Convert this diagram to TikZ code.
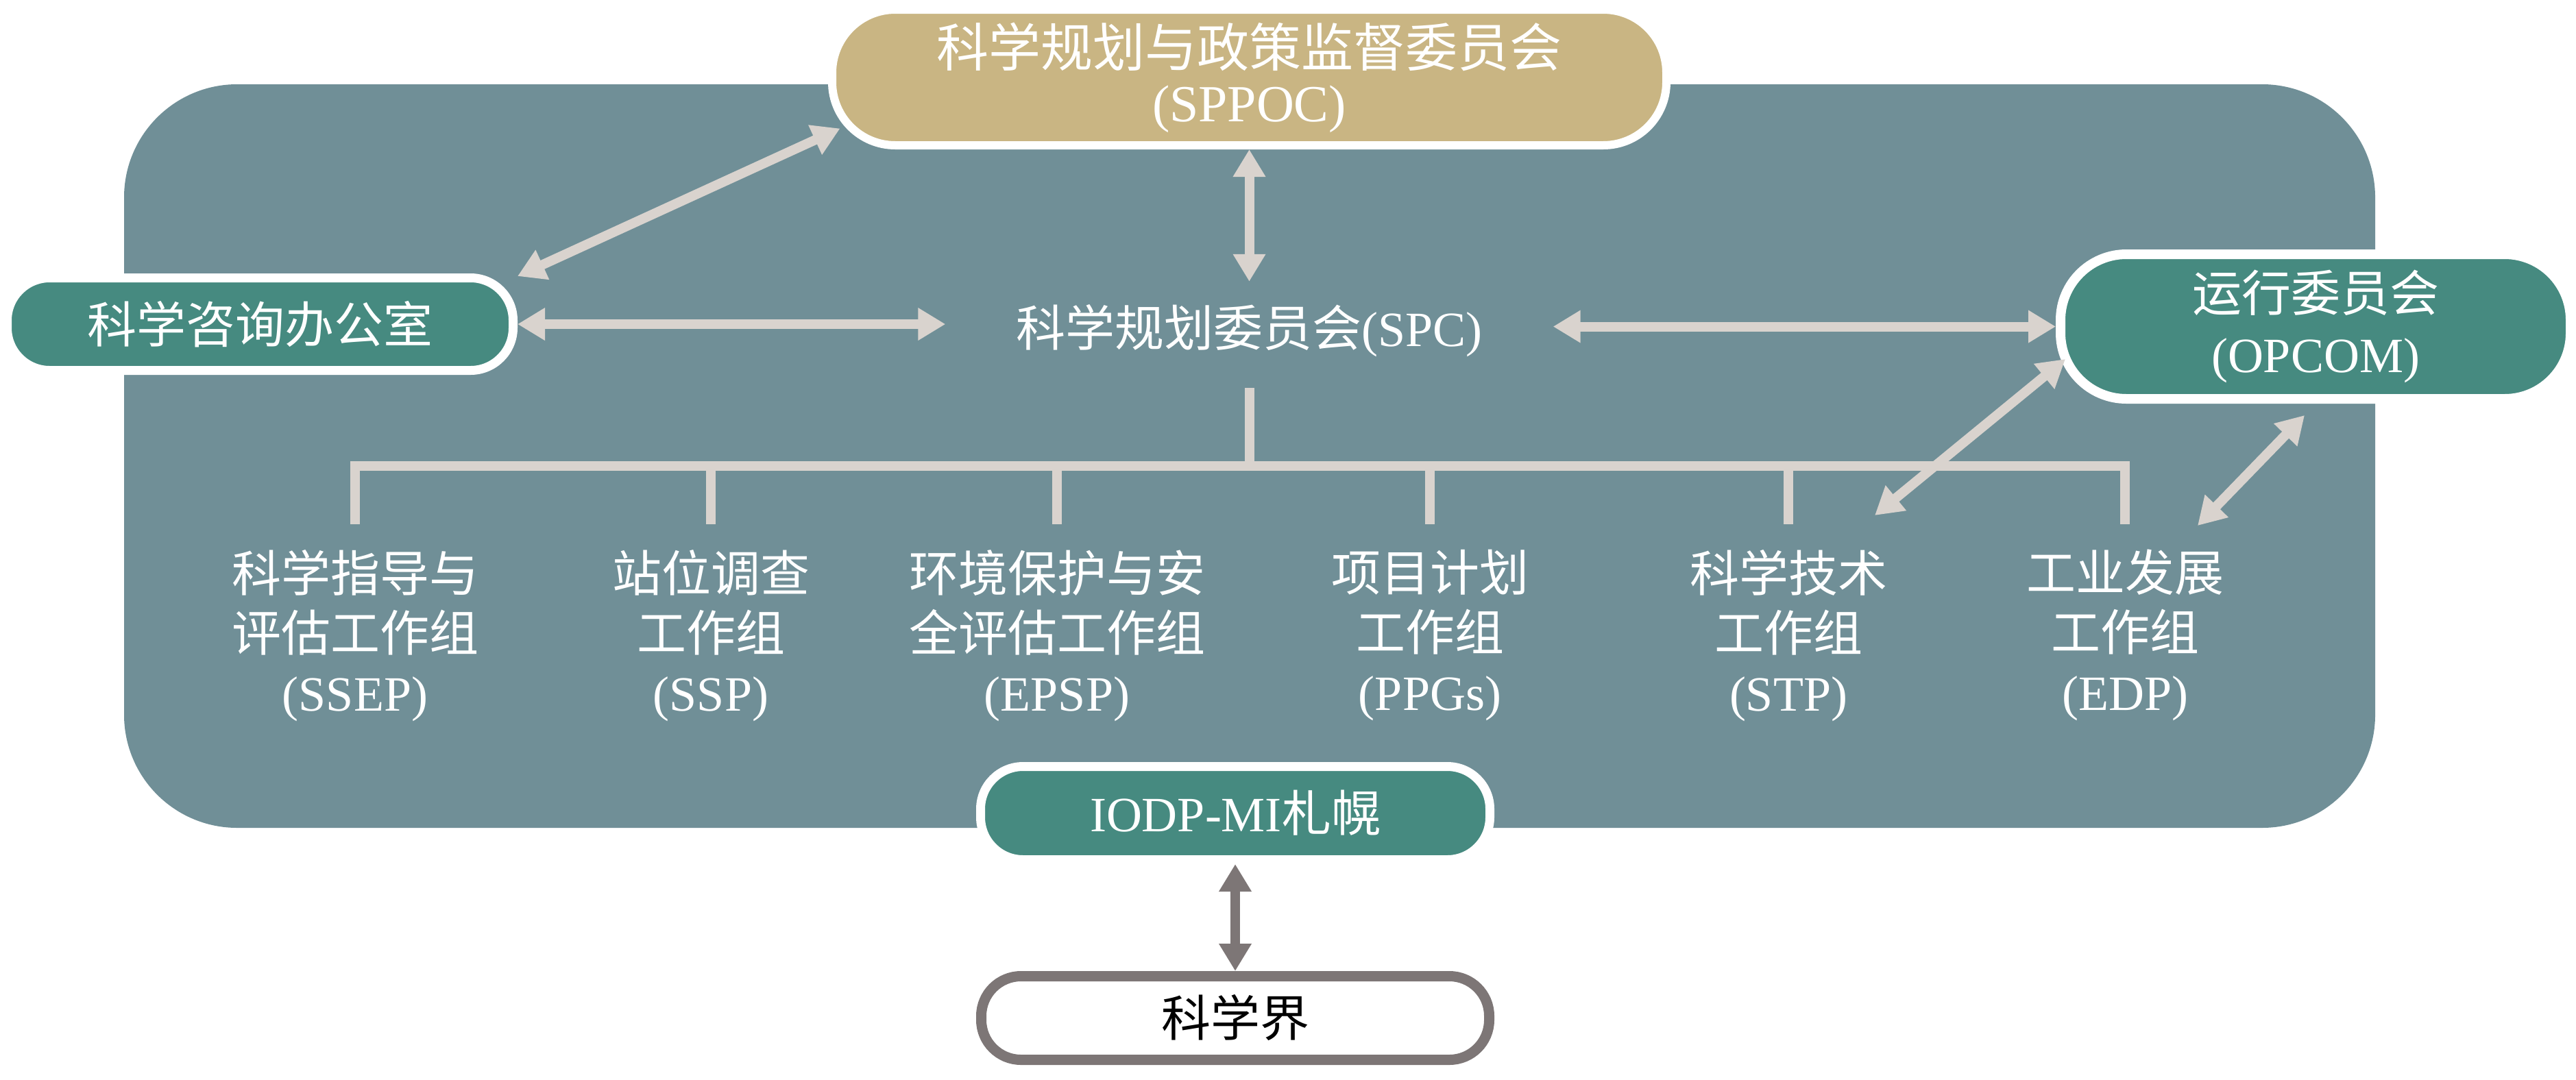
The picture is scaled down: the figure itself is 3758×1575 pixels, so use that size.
\documentclass[tikz,border=0pt]{standalone}
\usepackage{fontspec}
\setmainfont{Liberation Serif}
\newfontfamily\cjk{Noto Sans CJK SC}
\usetikzlibrary{arrows.meta,calc}
\definecolor{bgc}{RGB}{112,143,151}
\definecolor{tealc}{RGB}{70,138,128}
\definecolor{goldc}{RGB}{201,181,131}
\definecolor{lightc}{RGB}{217,211,206}
\definecolor{darkc}{RGB}{125,118,118}
\begin{document}
\begin{tikzpicture}[x=1pt,y=-1pt,
  pill/.style={rectangle, draw=white, fill=tealc, text=white, align=center, inner sep=0pt,
    font=\fontsize{72pt}{89pt}\selectfont},
  lbl/.style={text=white, align=center, anchor=north, inner xsep=0pt, inner ysep=37pt,
    font=\fontsize{72pt}{87pt}\selectfont},
  arr/.style={draw=lightc, line width=14pt, <->, >={Triangle[width=45pt,length=40pt]}},
  tree/.style={draw=lightc, line width=14pt}]
\useasboundingbox (0,0) rectangle (3758,1575);
\fill[white] (0,0) rectangle (3758,1575);
% background panel
\fill[bgc, rounded corners=165pt] (181,123) rectangle (3465,1208);

% nodes
\node[pill, fill=goldc, line width=12pt, rounded corners=92pt, minimum width=1217pt, minimum height=198pt,
  font=\fontsize{76pt}{80pt}\selectfont] (SPPOC) at (1822.5,113)
  {{\cjk 科学规划与政策监督委员会}\\(SPPOC)};
\node[pill, line width=13pt, rounded corners=62pt, minimum width=738pt, minimum height=135pt] (ASO) at (379.5,473)
  {{\cjk 科学咨询办公室}};
\node[pill, line width=14pt, rounded corners=96pt, minimum width=744pt, minimum height=211pt] (OPCOM) at (3378,476.5)
  {{\cjk 运行委员会}\\(OPCOM)};
\node[text=white, inner sep=0pt, minimum width=886pt, text height=94pt, text depth=61pt,
  font=\fontsize{72pt}{87pt}\selectfont] (SPC) at (1822.5,488.5)
  {{\cjk 科学规划委员会}(SPC)};
\node[pill, line width=13pt, rounded corners=62pt, minimum width=743pt, minimum height=136pt] (IODP) at (1802,1186.5)
  {IODP-MI{\cjk 札幌}};
\node[pill, draw=darkc, fill=white, text=black, line width=15pt, rounded corners=58pt,
  minimum width=741pt, minimum height=122pt] (SCI) at (1802,1485.5)
  {{\cjk 科学界}};

% working groups
\node[lbl] (SSEP) at (518,765) {{\cjk 科学指导与}\\{\cjk 评估工作组}\\(SSEP)};
\node[lbl] (SSP) at (1037,765) {{\cjk 站位调查}\\{\cjk 工作组}\\(SSP)};
\node[lbl] (EPSP) at (1542,765) {{\cjk 环境保护与安}\\{\cjk 全评估工作组}\\(EPSP)};
\node[lbl] (PPGs) at (2086,765) {{\cjk 项目计划}\\{\cjk 工作组}\\(PPGs)};
\node[lbl] (STP) at (2609,765) {{\cjk 科学技术}\\{\cjk 工作组}\\(STP)};
\node[lbl] (EDP) at (3100,765) {{\cjk 工业发展}\\{\cjk 工作组}\\(EDP)};

% tree
\coordinate (bar) at (1822.5,680);
\draw[tree] (SPC.south) -- (bar);
\draw[tree] (SSEP.north) -- (SSEP.north |- bar) -- (EDP.north |- bar) -- (EDP.north);
\foreach \n in {SSP,EPSP,PPGs,STP} \draw[tree] (\n.north |- bar) -- (\n.north);

% arrows
\coordinate (stpA) at (2735,752);
\coordinate (edpA) at (3206,767);
\draw[arr] (SPPOC.south) -- (SPC.north);
\draw[arr] (ASO.east) -- (ASO.east -| SPC.west);
\draw[arr] (SPC.east |- OPCOM.west) -- (OPCOM.west);
\draw[arr] ($(ASO.north east)+(0,4)$) -- ($(SPPOC.south west)+(17.5,-30.5)$);
\draw[arr] (stpA) -- ($(OPCOM.south west)+(14,-65)$);
\draw[arr] (edpA) -- ($(OPCOM.south)+(-16,17)$);
\draw[arr, draw=darkc] (IODP.south) -- (SCI.north);
\end{tikzpicture}
\end{document}
